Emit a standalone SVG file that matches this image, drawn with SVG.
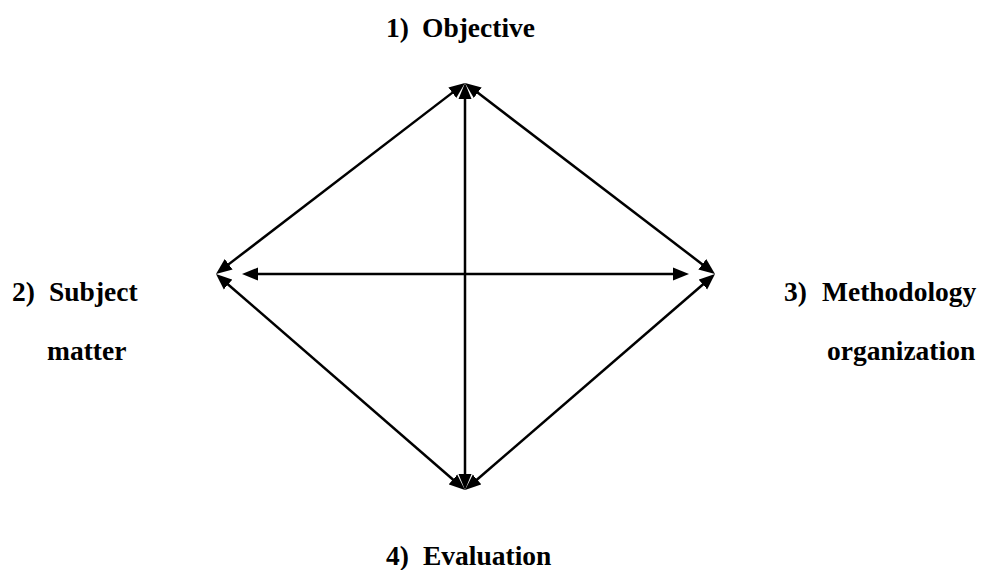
<svg xmlns="http://www.w3.org/2000/svg" width="981" height="570" viewBox="0 0 981 570">
<style>
.lbl{font-family:"Liberation Serif","Times New Roman",serif;font-weight:bold;font-size:27.5px;fill:#000}
.ln{stroke:#000;stroke-width:2.5;fill:none;marker-start:url(#ah);marker-end:url(#ah)}
</style>
<defs>
<marker id="ah" markerUnits="userSpaceOnUse" markerWidth="18" markerHeight="14" refX="8" refY="6.5" orient="auto-start-reverse" viewBox="0 0 18 13">
<path d="M0,0 L16,6.5 L0,13 Z" fill="#000"/>
</marker>
</defs>
<rect width="981" height="570" fill="#fff"/>
<g id="connectors">
<line class="ln" x1="458.65" y1="87.87" x2="222.35" y2="269.13"/>
<line class="ln" x1="471.36" y1="87.86" x2="708.64" y2="269.14"/>
<line class="ln" x1="458.96" y1="484.76" x2="222.04" y2="279.24"/>
<line class="ln" x1="471.05" y1="484.77" x2="708.95" y2="279.23"/>
<line class="ln" x1="465" y1="91" x2="465" y2="482"/>
<line class="ln" x1="250" y1="274" x2="681" y2="274"/>
</g>
<g id="objective"><text class="lbl" y="37"><tspan x="386">1)</tspan><tspan x="422">Objective</tspan></text></g>
<g id="subject"><text class="lbl" y="301"><tspan x="12">2)</tspan><tspan x="49">Subject</tspan></text><text class="lbl" x="47" y="360">matter</text></g>
<g id="methodology"><text class="lbl" y="301"><tspan x="784">3)</tspan><tspan x="822">Methodology</tspan></text><text class="lbl" x="827" y="360">organization</text></g>
<g id="evaluation"><text class="lbl" y="565"><tspan x="386">4)</tspan><tspan x="423">Evaluation</tspan></text></g>
</svg>
